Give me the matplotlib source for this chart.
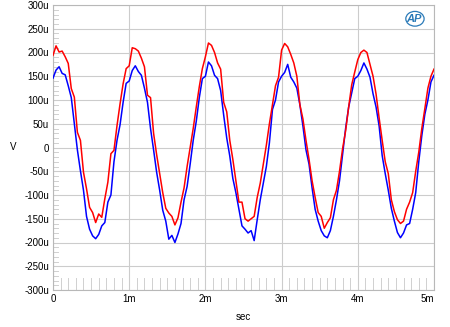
import numpy as np
import matplotlib
matplotlib.use("Agg")
import matplotlib.pyplot as plt
from matplotlib.patches import Ellipse

plt.rcParams['font.family'] = ['Liberation Sans', 'DejaVu Sans']

# sample spacing of the captured waveforms (seconds)
dt = 0.04e-3

# channel A (red), microvolts, one row per millisecond
red_uv = [
    194, 214, 201, 203, 191, 177, 124, 106, 32, 15, -52, -87, -126, -137, -158, -140, -147, -108, -73, -13, -6, 46, 92, 134, 166,
    172, 210, 208, 203, 188, 170, 110, 105, 30, -15, -55, -95, -128, -138, -145, -163, -148, -115, -85, -40, 0, 40, 85, 128, 166,
    191, 220, 215, 200, 178, 165, 95, 75, 15, -25, -70, -115, -115, -150, -155, -150, -145, -105, -75, -35, 5, 50, 90, 130, 148,
    205, 219, 212, 196, 178, 150, 90, 60, 15, -25, -70, -105, -137, -145, -170, -158, -148, -110, -90, -50, -3, 35, 85, 132, 159,
    185, 200, 205, 200, 175, 150, 112, 62, 15, -30, -55, -110, -135, -152, -160, -155, -130, -115, -95, -50, -10, 40, 82, 125, 150,
    165,
]

# channel B (blue), microvolts
blue_uv = [
    146, 163, 170, 156, 153, 130, 105, 50, -5, -49, -90, -145, -172, -186, -192, -183, -165, -158, -115, -100, -30, 15, 48, 95, 135,
    140, 162, 172, 160, 152, 125, 95, 40, -5, -52, -90, -132, -155, -193, -185, -200, -182, -160, -110, -82, -35, 15, 55, 105, 145,
    150, 180, 172, 152, 145, 120, 68, 20, -18, -65, -95, -130, -165, -172, -180, -175, -196, -152, -110, -75, -40, 10, 80, 100, 138,
    150, 158, 175, 148, 138, 125, 90, 45, -5, -35, -85, -130, -155, -175, -186, -190, -175, -145, -110, -70, -15, 40, 85, 115, 145,
    150, 162, 178, 165, 148, 113, 85, 45, -17, -55, -90, -128, -155, -179, -190, -180, -163, -160, -130, -95, -30, 25, 70, 100, 138,
    152,
]

x_ticks = [0, 1e-3, 2e-3, 3e-3, 4e-3, 5e-3]
x_labels = ["0", "1m", "2m", "3m", "4m", "5m"]
y_ticks = [-300e-6, -250e-6, -200e-6, -150e-6, -100e-6, -50e-6, 0,
           50e-6, 100e-6, 150e-6, 200e-6, 250e-6, 300e-6]
y_labels = ["-300u", "-250u", "-200u", "-150u", "-100u", "-50u", "0",
            "50u", "100u", "150u", "200u", "250u", "300u"]

t = np.arange(len(red_uv)) * dt
red = np.array(red_uv) * 1e-6
blue = np.array(blue_uv) * 1e-6

fig = plt.figure(figsize=(4.5, 3.27), dpi=100)
ax = fig.add_axes([53 / 450, 1 - 290 / 327, (434 - 53) / 450, (290 - 5) / 327])

ax.plot(t, blue, color="#0000ff", lw=1.1, zorder=3)
ax.plot(t, red, color="#ff0000", lw=1.1, zorder=4)

ax.set_xlim(0, 5.0e-3)
ax.set_ylim(-300e-6, 300e-6)

ax.set_xticks(x_ticks)
ax.set_xticklabels(x_labels)
ax.set_yticks(y_ticks)
ax.set_yticklabels(y_labels)
ax.tick_params(axis="both", which="major", length=0, labelsize=7, pad=3, colors="black")
ax.get_xticklabels()[-1].set_horizontalalignment("right")

ax.grid(True, color="#cccccc", lw=0.8, zorder=0)

# light scale marks inside the frame
for k in range(1, 50):
    xv = k * 0.1e-3
    if k % 10:
        ax.plot([xv, xv], [-300e-6, -275e-6], color="#d0d0d0", lw=0.7, zorder=1)
for k in range(-30, 31):
    yv = k * 10e-6
    if k % 5:
        ax.plot([0, 0.06e-3], [yv, yv], color="#d0d0d0", lw=0.7, zorder=1)

for s in ax.spines.values():
    s.set_color("#b8b8b8")
    s.set_linewidth(0.8)

ax.set_xlabel("sec", fontsize=7, labelpad=6)
ax.set_ylabel("V", fontsize=7, rotation=0, labelpad=8, va="center")

# logo
lx, ly = 4.75e-3, 271e-6
ax.add_patch(Ellipse((lx, ly), 0.24e-3, 31e-6, angle=0, fill=False,
                     ec="#2a7ab8", lw=0.9, zorder=5))
ax.text(lx - 0.01e-3, ly, "AP", color="#2a7ab8", fontsize=8, fontstyle="italic",
        fontweight="bold", ha="center", va="center", zorder=5)

fig.savefig("out.png", dpi=100)
